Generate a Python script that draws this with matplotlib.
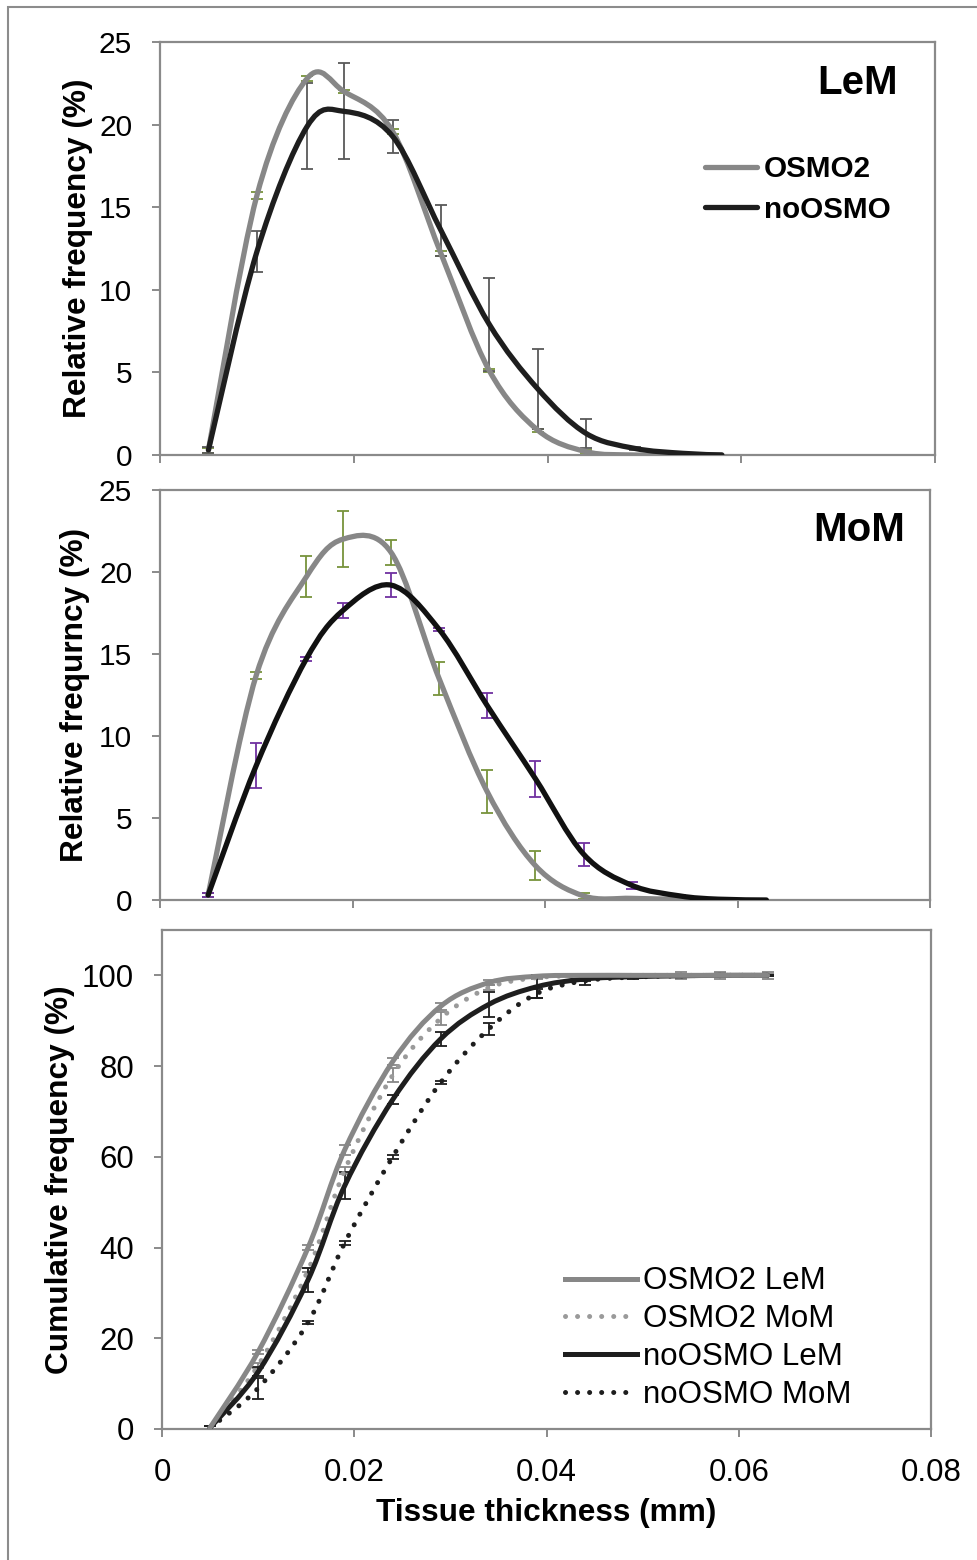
import numpy as np
import matplotlib
matplotlib.use('Agg')
import matplotlib.pyplot as plt
from matplotlib.path import Path
from matplotlib.patches import PathPatch, Rectangle
from matplotlib.lines import Line2D

plt.rcParams['font.family'] = ['Liberation Sans', 'DejaVu Sans']

# ==============================================================================
# DATA
# ==============================================================================
x_mm = [0.005, 0.010, 0.0152, 0.019, 0.024, 0.029, 0.034, 0.039, 0.044,
        0.049, 0.054, 0.058, 0.063]

# LeM relative frequency (%)
lem_osmo2     = [0.3, 15.7, 22.8, 22.0, 19.6, 12.2, 5.1, 1.5, 0.2, 0.0, 0.0, 0.0]
lem_osmo2_err = [0.15, 0.2, 0.15, 0.1, 0.15, 0.15, 0.1, 0.1, 0.1, 0.0, 0.0, 0.0]
lem_noosmo     = [0.3, 12.3, 19.9, 20.8, 19.3, 13.6, 7.9, 4.0, 1.3, 0.4, 0.1, 0.0]
lem_noosmo_err = [0.2, 1.25, 2.6, 2.9, 1.0, 1.55, 2.8, 2.4, 0.9, 0.1, 0.05, 0.0]

# MoM relative frequency (%)
mom_osmo2     = [0.3, 13.7, 19.7, 22.0, 21.2, 13.5, 6.6, 2.1, 0.25, 0.1, 0.05, 0.0]
mom_osmo2_err = [0.1, 0.2, 1.25, 1.7, 0.75, 1.0, 1.3, 0.9, 0.2, 0.05, 0.02, 0.0]
mom_noosmo     = [0.3, 8.2, 14.7, 17.65, 19.2, 16.5, 11.85, 7.4, 2.8, 0.9, 0.25, 0.05, 0.0]
mom_noosmo_err = [0.1, 1.4, 0.1, 0.45, 0.75, 0.1, 0.75, 1.1, 0.7, 0.2, 0.05, 0.02, 0.0]

# Cumulative frequency (%)
cum_osmo2_lem  = [0.3, 17.0, 40.0, 61.5, 81.0, 93.2, 98.4, 99.8, 100, 100, 100, 100, 100]
cum_osmo2_mom  = [0.3, 14.0, 35.0, 57.0, 78.0, 90.5, 97.3, 99.5, 99.9, 100, 100, 100, 100]
cum_noosmo_lem = [0.3, 12.6, 32.9, 53.6, 72.6, 86.0, 93.6, 97.5, 99.2, 99.7, 99.9, 100, 100]
cum_noosmo_mom = [0.3, 9.0, 23.5, 41.0, 60.0, 76.4, 88.2, 96.0, 98.8, 99.6, 99.9, 100, 100]
cum_osmo2_lem_err  = [0.3, 0.5, 0.5, 1.0, 0.8, 0.8, 0.5, 0.3, 0.2, 0.2, 0.8, 0.8, 0.8]
cum_osmo2_mom_err  = [0.3, 0.5, 0.5, 0.8, 1.5, 1.5, 0.5, 0.3, 0.2, 0.2, 0.2, 0.2, 0.2]
cum_noosmo_lem_err = [0.3, 1.0, 2.6, 3.0, 1.0, 1.5, 2.8, 2.6, 0.5, 0.3, 0.2, 0.1, 0.1]
cum_noosmo_mom_err = [0.3, 2.3, 0.4, 0.4, 0.4, 0.4, 1.3, 1.0, 1.0, 0.3, 0.2, 0.1, 0.1]

# ==============================================================================
# STYLE
# ==============================================================================
GRAY   = '#878787'
LGRAY  = '#9a9a9a'
BLACK  = '#1e1e1e'
SPINE  = '#8a8a8a'
GREEN  = '#77933C'
PURPLE = '#7030A0'
EBGRAY = '#595959'
LABEL_FS = 22.8


def smooth_line(ax, x, y, color, lw, dotted=False, zorder=3):
    """Excel-like smoothed line: cubic Bezier through the points."""
    pts = np.column_stack([x[:len(y)], y]).astype(float)
    n = len(pts)
    verts = [pts[0]]
    codes = [Path.MOVETO]
    for i in range(n - 1):
        p0 = pts[i - 1] if i > 0 else pts[i]
        p1, p2 = pts[i], pts[i + 1]
        p3 = pts[i + 2] if i + 2 < n else pts[i + 1]
        verts += [p1 + (p2 - p0) / 6.0, p2 - (p3 - p1) / 6.0, p2]
        codes += [Path.CURVE4] * 3
    ls = (0, (0.01, 2.4)) if dotted else '-'
    patch = PathPatch(Path(verts, codes), fill=False, edgecolor=color,
                      lw=lw, linestyle=ls, zorder=zorder)
    patch.set_capstyle('round')
    patch.set_joinstyle('round')
    ax.add_patch(patch)


def errbars(ax, x, y, err, color):
    ax.errorbar(x[:len(y)], y, yerr=err, fmt='none', ecolor=color,
                elinewidth=1.3, capsize=4, capthick=1.3, zorder=2)


def style_axes(ax, ymax, ystep, show_x=False, fs=21.5):
    ax.set_xlim(0, 0.08)
    ax.set_ylim(0, ymax)
    ax.set_xticks(np.arange(0, 0.0801, 0.02))
    ax.set_yticks(np.arange(0, ymax + 0.01 if ymax == 25 else 100.1, ystep))
    for s in ax.spines.values():
        s.set_color(SPINE)
        s.set_linewidth(1.6)
    ax.tick_params(axis='both', direction='out', color=SPINE, width=1.4,
                   length=6, labelsize=fs)
    ax.tick_params(axis='y', pad=14)
    ax.tick_params(axis='x', pad=15)
    if show_x:
        ax.set_xticklabels(['0', '0.02', '0.04', '0.06', '0.08'])
    else:
        ax.set_xticklabels([])


# ==============================================================================
# FIGURE
# ==============================================================================
W, H = 977, 1560
fig = plt.figure(figsize=(W / 100, H / 100), dpi=100)
fig.patches.append(Rectangle((8 / W, -0.01), 1.0, 1 - 7 / H + 0.01,
                             transform=fig.transFigure, fill=False,
                             ec='#8c8c8c', lw=1.5))

ax1 = fig.add_axes([160 / W, 1 - 455 / H, 775 / W, 413 / H])
ax2 = fig.add_axes([160 / W, 1 - 900 / H, 770 / W, 410 / H])
ax3 = fig.add_axes([162 / W, 1 - 1429 / H, 769 / W, 499 / H])

# ── Panel 1: LeM ────────────────────────────────────────────────────────────
style_axes(ax1, 25, 5)
errbars(ax1, x_mm, lem_osmo2, lem_osmo2_err, GREEN)
errbars(ax1, x_mm, lem_noosmo, lem_noosmo_err, EBGRAY)
smooth_line(ax1, x_mm, lem_osmo2, GRAY, 3.8)
smooth_line(ax1, x_mm, lem_noosmo, BLACK, 3.8, zorder=4)
ax1.set_ylabel('Relative frequency (%)', fontsize=LABEL_FS, fontweight='bold')
ax1.yaxis.set_label_coords(-0.0865, 0.5)
ax1.text(0.952, 0.90, 'LeM', transform=ax1.transAxes, ha='right',
         va='center', fontsize=29, fontweight='bold')
handles = [Line2D([], [], color=GRAY, lw=3.8, solid_capstyle='round'),
           Line2D([], [], color=BLACK, lw=3.8, solid_capstyle='round')]
ax1.legend(handles, ['OSMO2', 'noOSMO'], loc='center left',
           bbox_to_anchor=(0.703, 0.643), frameon=False, borderpad=0,
           borderaxespad=0, handlelength=1.75, handletextpad=0.25,
           labelspacing=0.42, prop={'size': 21.3, 'weight': 'bold'})

# ── Panel 2: MoM ────────────────────────────────────────────────────────────
style_axes(ax2, 25, 5)
errbars(ax2, x_mm, mom_osmo2, mom_osmo2_err, GREEN)
errbars(ax2, x_mm, mom_noosmo, mom_noosmo_err, PURPLE)
smooth_line(ax2, x_mm, mom_osmo2, GRAY, 3.8)
smooth_line(ax2, x_mm, mom_noosmo, '#111111', 3.8, zorder=4)
ax2.set_ylabel('Relative frequrncy (%)', fontsize=LABEL_FS, fontweight='bold')
ax2.yaxis.set_label_coords(-0.091, 0.5)
ax2.text(0.9675, 0.902, 'MoM', transform=ax2.transAxes, ha='right',
         va='center', fontsize=29, fontweight='bold')

# ── Panel 3: cumulative ─────────────────────────────────────────────────────
style_axes(ax3, 110, 20, show_x=True, fs=22.5)
errbars(ax3, x_mm, cum_osmo2_lem, cum_osmo2_lem_err, GRAY)
errbars(ax3, x_mm, cum_osmo2_mom, cum_osmo2_mom_err, GRAY)
errbars(ax3, x_mm, cum_noosmo_lem, cum_noosmo_lem_err, BLACK)
errbars(ax3, x_mm, cum_noosmo_mom, cum_noosmo_mom_err, BLACK)
smooth_line(ax3, x_mm, cum_noosmo_mom, BLACK, 3.6, dotted=True)
smooth_line(ax3, x_mm, cum_osmo2_mom, LGRAY, 3.6, dotted=True)
smooth_line(ax3, x_mm, cum_noosmo_lem, BLACK, 3.6, zorder=4)
smooth_line(ax3, x_mm, cum_osmo2_lem, GRAY, 3.6, zorder=4)
ax3.set_ylabel('Cumulative frequency (%)', fontsize=LABEL_FS,
               fontweight='bold')
ax3.yaxis.set_label_coords(-0.113, 0.5)
ax3.set_xlabel('Tissue thickness (mm)', fontsize=LABEL_FS, fontweight='bold',
               labelpad=7)
handles = [Line2D([], [], color=GRAY, lw=3.6),
           Line2D([], [], color=LGRAY, lw=3.6, linestyle=(0, (0.01, 2.4)),
                  dash_capstyle='round'),
           Line2D([], [], color=BLACK, lw=3.6),
           Line2D([], [], color=BLACK, lw=3.6, linestyle=(0, (0.01, 2.4)),
                  dash_capstyle='round')]
ax3.legend(handles, ['OSMO2 LeM', 'OSMO2 MoM', 'noOSMO LeM', 'noOSMO MoM'],
           loc='center left', bbox_to_anchor=(0.524, 0.182), frameon=False,
           borderpad=0, borderaxespad=0, handlelength=2.3, handletextpad=0.2,
           labelspacing=0.25, prop={'size': 22.5})

plt.savefig('out.png', dpi=100)
plt.close()
